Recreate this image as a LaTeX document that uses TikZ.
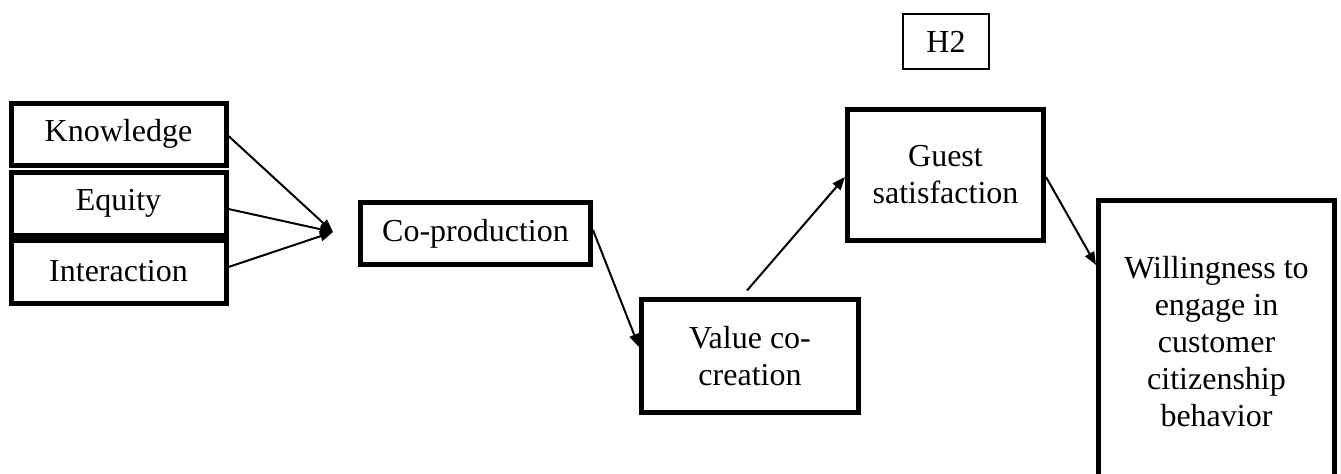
\documentclass[tikz,border=0pt]{standalone}
\usepackage{fontspec}
\setmainfont{Liberation Serif}
\usetikzlibrary{arrows.meta}
\begin{document}
\begin{tikzpicture}[x=0.5pt,y=-0.5pt,
  box/.style={draw=black, line width=2.5pt, fill=white, inner sep=0pt, align=center,
    font=\fontsize{16}{18.5}\selectfont},
  thinbox/.style={draw=black, line width=0.7pt, inner sep=0pt, align=center,
    font=\fontsize{16}{18.5}\selectfont},
  link/.style={line width=1pt, -{Triangle[length=6.5pt,width=5pt]}}
]
\useasboundingbox (0,0) rectangle (1341,473);
\node[box, minimum width=107.5pt, minimum height=31pt] (k) at (118.5,134) {Knowledge};
\node[box, minimum width=107.5pt, minimum height=31.5pt] (e) at (118.5,203.5) {Equity};
\node[box, minimum width=107.5pt, minimum height=31.5pt] (i) at (118.5,271.5) {Interaction};
\coordinate (hub) at (333,232);
\node[box, minimum width=115pt, minimum height=31pt] (cp) at (475.5,233.5) {Co-production};
\node[box, minimum width=108.5pt, minimum height=56.5pt] (v) at (750,356) {Value co-\\creation};
\node[box, minimum width=98pt, minimum height=65.5pt] (g) at (945.5,175) {Guest\\satisfaction};
\node[thinbox, minimum width=43pt, minimum height=27.5pt] (h) at (946,41.5) {H2};
\node[box, minimum width=118pt, minimum height=141.5pt] (w) at (1216.5,342) {Willingness to\\engage in\\customer\\citizenship\\behavior};
\draw[link] ([yshift=-1pt]k.east) -- (hub);
\draw[link] ([yshift=-2.75pt]e.east) -- (hub);
\draw[link] ([yshift=2.25pt]i.east) -- (hub);
\draw[link] ([yshift=1.75pt]cp.east) -- ([yshift=4.5pt]v.west);
\draw[link] ([xshift=-1.5pt,yshift=3.25pt]v.north) -- ([yshift=-1pt]g.west);
\draw[link] ([yshift=-1pt]g.east) -- ([yshift=38.5pt]w.west);
\end{tikzpicture}
\end{document}
